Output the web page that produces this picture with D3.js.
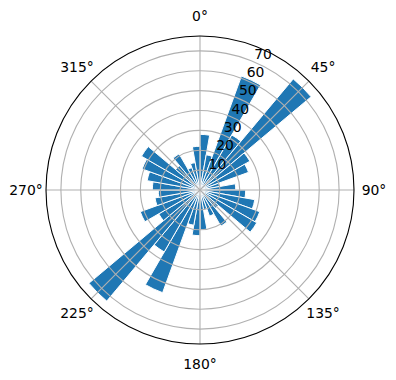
<!DOCTYPE html>
<html>
<head>
<meta charset="utf-8">
<script src="https://cdn.jsdelivr.net/npm/d3@7"></script>
<style>
  body { margin: 0; background: #fff; }
  svg { display: block; font-family: "DejaVu Sans", sans-serif; }
</style>
</head>
<body>
<div id="container"></div>
<script>
// direction bins (degrees, start of each 10° bin)
const binStarts = [0, 10, 20, 30, 40, 50, 60, 70, 80, 90, 100, 110,
  120, 130, 140, 150, 160, 170, 180, 190, 200, 210, 220, 230,
  240, 250, 260, 270, 280, 290, 300, 310, 320, 330, 340, 350];
const binWidth = 10;
// bar heights
const counts = [28, 18, 61, 32, 73, 29, 26, 10, 18, 23, 28, 32,
  33, 12, 21, 14, 10, 20, 23, 18, 55, 36, 73, 24,
  32, 23, 21, 24, 27, 31, 34, 16, 21, 12, 14, 22];

const radialTicks = [10, 20, 30, 40, 50, 60, 70];
const angleTicks = [0, 45, 90, 135, 180, 225, 270, 315];
const angleLabels = ["0°", "45°", "90°", "135°", "180°", "225°", "270°", "315°"];

const w = 396;
const h = 380;
const cx = 200;
const cy = 190;
const outerR = 154;
const rMax = 77.5;

const svg = d3.select("#container")
  .append("svg")
  .attr("width", w)
  .attr("height", h);

const g = svg.append("g").attr("transform", `translate(${cx},${cy})`);

const rScale = d3.scaleLinear().domain([0, rMax]).range([0, outerR]);
const aScale = d3.scaleLinear().domain([0, 360]).range([0, 2 * Math.PI]);

// bars
const arc = d3.arc()
  .innerRadius(0)
  .outerRadius(d => rScale(d.v))
  .startAngle(d => aScale(d.a))
  .endAngle(d => aScale(d.a + binWidth));

g.selectAll("path.bar")
  .data(binStarts.map((a, i) => ({ a: a, v: counts[i] })))
  .enter()
  .append("path")
  .attr("class", "bar")
  .attr("d", arc)
  .attr("fill", "#1f77b4")
  .attr("stroke", "#fff")
  .attr("stroke-width", 1)
  .attr("stroke-linejoin", "miter");

// grid: rings
g.selectAll("circle.ring")
  .data(radialTicks)
  .enter()
  .append("circle")
  .attr("r", d => rScale(d))
  .attr("fill", "none")
  .attr("stroke", "#b0b0b0")
  .attr("stroke-width", 1.1);

// grid: spokes
g.selectAll("line.spoke")
  .data(angleTicks)
  .enter()
  .append("line")
  .attr("x1", 0)
  .attr("y1", 0)
  .attr("x2", d => outerR * Math.sin(aScale(d)))
  .attr("y2", d => -outerR * Math.cos(aScale(d)))
  .attr("stroke", "#b0b0b0")
  .attr("stroke-width", 1.1);

// outer spine
g.append("circle")
  .attr("r", outerR)
  .attr("fill", "none")
  .attr("stroke", "#000")
  .attr("stroke-width", 1.1);

// radial labels along 22.5°
const labAngle = aScale(22.5);
g.selectAll("text.rlab")
  .data(radialTicks)
  .enter()
  .append("text")
  .attr("x", d => rScale(d) * Math.sin(labAngle) + 1)
  .attr("y", d => -rScale(d) * Math.cos(labAngle) - 3)
  .attr("font-size", "13.9px")
  .attr("fill", "#000")
  .text(d => d);

// angle labels
const labR = 174;
g.selectAll("text.alab")
  .data(angleTicks)
  .enter()
  .append("text")
  .attr("x", d => labR * Math.sin(aScale(d)))
  .attr("y", d => -labR * Math.cos(aScale(d)))
  .attr("text-anchor", "middle")
  .attr("dominant-baseline", "central")
  .attr("font-size", "13.9px")
  .attr("fill", "#000")
  .text((d, i) => angleLabels[i]);
</script>
</body>
</html>
